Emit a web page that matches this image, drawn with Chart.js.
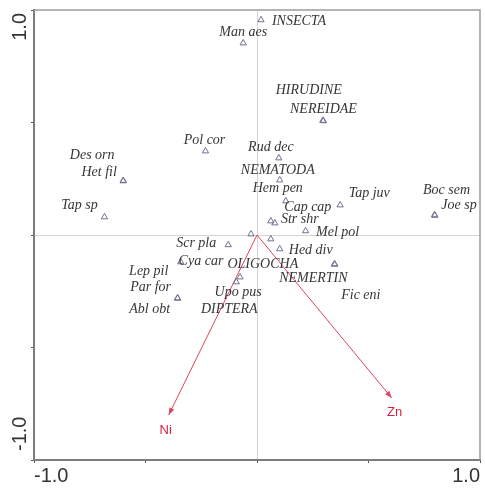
<!DOCTYPE html>
<html>
<head>
<meta charset="utf-8">
<script src="https://cdn.jsdelivr.net/npm/chart.js@4/dist/chart.umd.min.js"></script>
<style>
  html, body { margin: 0; padding: 0; background: #ffffff; }
  #wrap { width: 485px; height: 490px; }
</style>
</head>
<body>
<div id="wrap"><canvas id="c" width="485" height="490"></canvas></div>
<script>
// Species scores (axis 1, axis 2)
const speciesNames = [
  'INSECTA', 'Man aes', 'HIRUDINE', 'NEREIDAE', 'Pol cor', 'Des orn', 'Het fil',
  'Tap sp', 'Rud dec', 'NEMATODA', 'Hem pen', 'Cap cap', 'Tap juv', 'Boc sem',
  'Joe sp', 'Str shr', 'Mel pol', 'Hed div', 'OLIGOCHA', 'NEMERTIN', 'Fic eni',
  'Scr pla', 'Cya car', 'Lep pil', 'Par for', 'Abl obt', 'Upo pus', 'DIPTERA'
];
const speciesX = [
  0.018, -0.062, 0.295, 0.298, -0.231, -0.600, -0.600,
  -0.684, 0.098, 0.102, 0.129, 0.062, 0.373, 0.796,
  0.798, 0.080, 0.218, 0.102, 0.062, 0.347, 0.349,
  -0.129, -0.027, -0.342, -0.356, -0.356, -0.076, -0.093
];
const speciesY = [
  0.956, 0.853, 0.509, 0.507, 0.373, 0.242, 0.240,
  0.080, 0.342, 0.244, 0.151, 0.062, 0.133, 0.089,
  0.087, 0.053, 0.018, -0.062, -0.018, -0.129, -0.131,
  -0.044, 0.004, -0.120, -0.280, -0.282, -0.187, -0.209
];

// Environmental variables (biplot arrows)
const envNames = ['Ni', 'Zn'];
const envX = [-0.396, 0.604];
const envY = [-0.800, -0.724];

// Axis range and labelled ticks
const axisMin = -1;
const axisMax = 1;
const tickStep = 0.5;
const tickValues = [-1, 1];
const tickLabels = ['-1.0', '1.0'];

// Label placement around each triangle (pixel offsets of the text centre)
const labelOffset = {
  'INSECTA': [38, 1], 'Man aes': [0, -11], 'HIRUDINE': [-14, -30], 'NEREIDAE': [0, -12],
  'Pol cor': [-1, -11], 'Des orn': [-31, -25], 'Het fil': [-24, -9], 'Tap sp': [-25, -12],
  'Rud dec': [-8, -11], 'NEMATODA': [-2, -10], 'Hem pen': [-8, -13], 'Cap cap': [37, -14],
  'Tap juv': [29, -12], 'Boc sem': [12, -25], 'Joe sp': [24, -10], 'Str shr': [25, -4],
  'Mel pol': [32, 1], 'Hed div': [31, 1], 'OLIGOCHA': [-8, 25], 'NEMERTIN': [-21, 14],
  'Fic eni': [26, 31], 'Scr pla': [-32, -2], 'Cya car': [-50, 27], 'Lep pil': [-32, 9],
  'Par for': [-27, -11], 'Abl obt': [-28, 11], 'Upo pus': [-2, 15], 'DIPTERA': [-7, 27]
};
const envLabelOffset = { 'Ni': [-3, 15], 'Zn': [3, 15] };

const arrowColor = '#e2405c';
const envTextColor = '#d62240';

const speciesData = speciesNames.map((n, i) => ({ x: speciesX[i], y: speciesY[i] }));
const envDatasets = envNames.map((n, i) => ({
  label: n,
  data: [{ x: 0, y: 0 }, { x: envX[i], y: envY[i] }],
  showLine: true,
  borderColor: arrowColor,
  borderWidth: 1,
  pointRadius: 0,
  fill: false,
  order: 2
}));

const overlay = {
  id: 'overlay',
  afterDatasetsDraw(chart) {
    const ctx = chart.ctx;
    const xs = chart.scales.x, ys = chart.scales.y;
    const a = chart.chartArea;
    ctx.save();

    // top and right frame
    ctx.strokeStyle = '#9c9c9c';
    ctx.lineWidth = 1.5;
    ctx.beginPath();
    ctx.moveTo(a.left, a.top);
    ctx.lineTo(a.right, a.top);
    ctx.lineTo(a.right, a.bottom);
    ctx.stroke();

    // arrowheads and variable names
    envNames.forEach((n, i) => {
      const x0 = xs.getPixelForValue(0), y0 = ys.getPixelForValue(0);
      const x1 = xs.getPixelForValue(envX[i]), y1 = ys.getPixelForValue(envY[i]);
      const ang = Math.atan2(y1 - y0, x1 - x0);
      const len = 7, half = 2.6;
      ctx.fillStyle = arrowColor;
      ctx.beginPath();
      ctx.moveTo(x1, y1);
      ctx.lineTo(x1 - len * Math.cos(ang) + half * Math.sin(ang), y1 - len * Math.sin(ang) - half * Math.cos(ang));
      ctx.lineTo(x1 - len * Math.cos(ang) - half * Math.sin(ang), y1 - len * Math.sin(ang) + half * Math.cos(ang));
      ctx.closePath();
      ctx.fill();
      const off = envLabelOffset[n];
      ctx.fillStyle = envTextColor;
      ctx.font = '13px "Liberation Sans", Arial, sans-serif';
      ctx.textAlign = 'center';
      ctx.textBaseline = 'middle';
      ctx.fillText(n, x1 + off[0], y1 + off[1]);
    });

    // species names
    ctx.fillStyle = '#363636';
    ctx.font = 'italic 14px "Liberation Serif", "Times New Roman", serif';
    ctx.textAlign = 'center';
    ctx.textBaseline = 'middle';
    speciesNames.forEach((n, i) => {
      const px = xs.getPixelForValue(speciesX[i]);
      const py = ys.getPixelForValue(speciesY[i]);
      const off = labelOffset[n] || [0, -10];
      ctx.fillText(n, px + off[0], py + off[1]);
    });

    // axis end labels
    ctx.fillStyle = '#333333';
    ctx.font = '20px "Liberation Sans", Arial, sans-serif';
    ctx.textBaseline = 'alphabetic';
    tickValues.forEach((v, i) => {
      const px = xs.getPixelForValue(v);
      ctx.textAlign = v === axisMin ? 'left' : 'right';
      ctx.fillText(tickLabels[i], px, a.bottom + 22);
    });
    tickValues.forEach((v, i) => {
      const py = ys.getPixelForValue(v);
      ctx.save();
      if (v === axisMin) {
        ctx.translate(a.left - 8, py - 9);
        ctx.rotate(-Math.PI / 2);
        ctx.textAlign = 'left';
      } else {
        ctx.translate(a.left - 8, py + 3);
        ctx.rotate(-Math.PI / 2);
        ctx.textAlign = 'right';
      }
      ctx.fillText(tickLabels[i], 0, 0);
      ctx.restore();
    });

    ctx.restore();
  }
};

const zeroGrid = (ctx) => (ctx.tick && ctx.tick.value === 0) ? '#d4d4d4' : 'rgba(0,0,0,0)';

new Chart(document.getElementById('c'), {
  type: 'scatter',
  data: {
    datasets: [
      {
        label: 'species',
        data: speciesData,
        pointStyle: 'triangle',
        pointRadius: 3.6,
        borderColor: '#707090',
        backgroundColor: 'rgba(255,255,255,0)',
        borderWidth: 1,
        order: 1
      },
      ...envDatasets
    ]
  },
  options: {
    responsive: false,
    animation: false,
    devicePixelRatio: 1,
    layout: { padding: { top: 10, right: 1, left: 0, bottom: 0 } },
    plugins: { legend: { display: false }, tooltip: { enabled: false } },
    scales: {
      x: {
        type: 'linear', min: axisMin, max: axisMax, position: 'bottom',
        ticks: { display: false, stepSize: tickStep },
        grid: { color: zeroGrid, tickColor: '#555', tickLength: 3, lineWidth: 1 },
        border: { color: '#7c7c7c', width: 2 },
        afterFit: (s) => { s.height = 30; }
      },
      y: {
        type: 'linear', min: axisMin, max: axisMax, position: 'left',
        ticks: { display: false, stepSize: tickStep },
        grid: { color: zeroGrid, tickColor: '#555', tickLength: 3, lineWidth: 1 },
        border: { color: '#7c7c7c', width: 2 },
        afterFit: (s) => { s.width = 34; }
      }
    }
  },
  plugins: [overlay]
});
</script>
</body>
</html>
